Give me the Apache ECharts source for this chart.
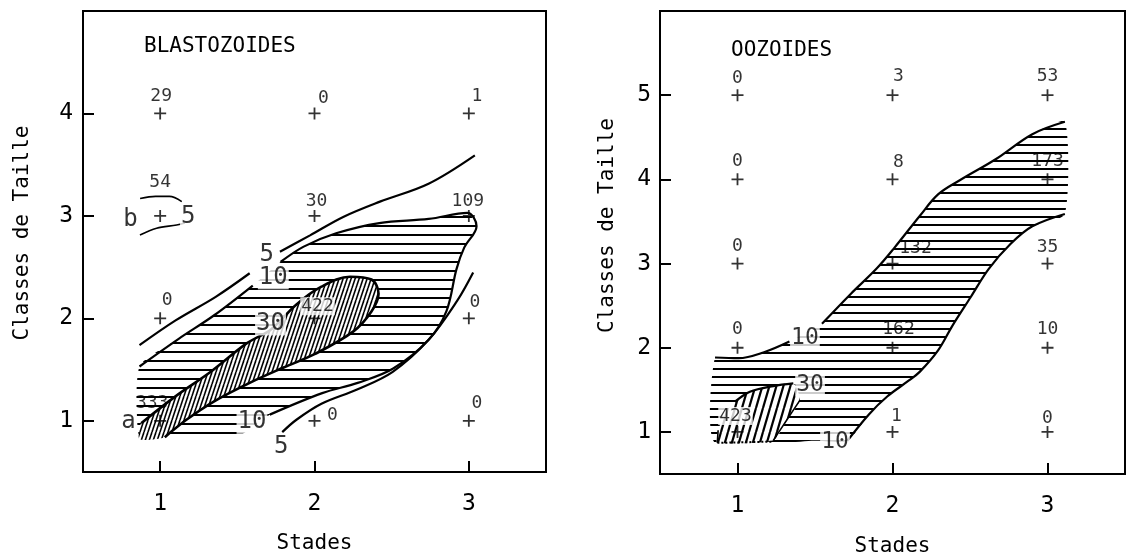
<!DOCTYPE html>
<html><head><meta charset="utf-8">
<script src="https://cdn.jsdelivr.net/npm/echarts@6/dist/echarts.min.js"></script>
<style>html,body{margin:0;padding:0;background:#fff}#c{width:1131px;height:555px}</style>
</head><body><div id="c"></div>
<script>
// ---------- DATA ----------
const stades = [1, 2, 3];
const blastoClasses = [1, 2, 3, 4];
const blastoCounts = [   // rows: classe 1..4, cols: stade 1..3
  [333, 0, 0],
  [0, 422, 0],
  [54, 30, 109],
  [29, 0, 1]
];
const oozoClasses = [1, 2, 3, 4, 5];
const oozoCounts = [     // rows: classe 1..5, cols: stade 1..3
  [423, 1, 0],
  [0, 162, 10],
  [0, 132, 35],
  [0, 8, 173],
  [0, 3, 53]
];
const blastoTicksY = [1, 2, 3, 4];
const oozoTicksY = [1, 2, 3, 4, 5];
const ticksX = [1, 2, 3];

// contour traces (data coordinates: stade, classe)
const blasto5Upper1 = [[0.866,1.738],[1.10,1.98],[1.36,2.21],[1.58,2.44]];
const blasto5Upper2 = [[1.776,2.65],[1.971,2.81],[2.186,2.99],[2.424,3.139],[2.739,3.314],[3.039,3.591]];
const blasto5Lower = [[1.791,0.889],[1.883,1.010],[2.045,1.166],[2.276,1.305],[2.507,1.478],[2.739,1.790],[2.924,2.171],[3.028,2.448]];
const blastoBUpper = [[0.87,3.17],[0.97,3.19],[1.06,3.19],[1.14,3.14]];
const blastoBLower = [[0.869,2.813],[0.977,2.879],[1.107,2.911],[1.16,2.93]];
const blasto10TopLeft = [[0.866,1.53],[1.12,1.80],[1.35,2.03],[1.60,2.32]];
const blasto10TopRight = [[1.78,2.55],[1.93,2.70],[2.14,2.83],[2.42,2.93],[2.74,2.97],[2.99,3.03],[3.05,2.90],[2.97,2.69],[2.92,2.48],[2.855,2.07],[2.74,1.79],[2.51,1.51],[2.28,1.37],[2.05,1.27],[1.71,1.06]];
const blasto10Bottom = [[1.47,0.82],[1.0,0.82],[0.866,0.82]];
const blasto30Edge = [[0.877,0.976],[1.097,1.236],[1.328,1.478],[1.56,1.755],[1.72,1.894],[1.883,2.136],[2.045,2.309],[2.23,2.406],[2.369,2.379],[2.415,2.24],[2.369,2.067],[2.25,1.87],[2.0,1.65],[1.8,1.52],[1.58,1.37],[1.35,1.19],[1.17,1.01],[1.03,0.84]];
const blasto30Bottom = [[0.866,0.82]];
const blastoContourText = ['5','10','30','10','5','b','a','5'];
const blastoContourAt = [[1.69,2.62],[1.733,2.40],[1.715,1.95],[1.595,0.99],[1.785,0.75],[0.808,2.967],[0.795,0.99],[1.182,2.99]];

const oozo10UpperA = [[0.855,1.884],[1.007,1.876],[1.171,1.947],[1.335,2.074]];
const oozo10UpperB = [[1.545,2.284],[1.732,2.642],[1.896,2.937],[2.013,3.189],[2.177,3.568],[2.294,3.821],[2.434,3.989],[2.668,4.242],[2.902,4.537],[3.112,4.684]];
const oozo10Lower = [[3.112,3.589],[2.902,3.442],[2.761,3.232],[2.621,2.937],[2.504,2.600],[2.387,2.263],[2.294,1.968],[2.177,1.716],[2.106,1.611],[1.966,1.421],[1.849,1.211],[1.709,0.895]];
const oozo10Bottom = [[1.498,0.895],[0.855,0.874]];
const oozo30Upper = [[0.984,1.358],[1.08,1.477],[1.231,1.545],[1.36,1.577]];
const oozo30Right = [[1.403,1.378],[1.317,1.139],[1.231,0.90]];
const oozo30Left = [[0.87,0.87],[0.875,1.02],[0.92,1.22]];
const oozo30Dots = [[0.87,0.87],[1.231,0.885]];
const oozoContourText = ['10','30','10'];
const oozoContourAt = [[1.435,2.11],[1.468,1.557],[1.629,0.88]];

// ---------- STYLE ----------
const FONT = '"DejaVu Sans Mono", monospace';
const LEFT_SHIFT = [
  [[-8,-17],[18,-5],[8,-17]],
  [[7,-18],[3,-12],[6,-16]],
  [[0,-34],[2,-15],[-1,-15]],
  [[1,-17],[9,-15],[8,-17]]
];
const RIGHT_SHIFT = [
  [[-2,-16],[4,-16],[0,-14]],
  [[0,-18],[6,-18],[0,-18]],
  [[0,-17],[23,-15],[0,-16]],
  [[0,-18],[6,-17],[0,-18]],
  [[0,-17],[6,-19],[0,-19]]
];

function hatchH(gap, lw) {
  const c = document.createElement('canvas'); c.width = 8; c.height = gap;
  const g = c.getContext('2d'); g.fillStyle = '#000'; g.fillRect(0, 0, 8, lw);
  return c;
}
function hatchD(w, h, lw) {
  const c = document.createElement('canvas'); c.width = w; c.height = h;
  const g = c.getContext('2d'); g.fillStyle = '#fff'; g.fillRect(0, 0, w, h);
  g.strokeStyle = '#000'; g.lineWidth = lw;
  for (const k of [-1, 0, 1]) { g.beginPath(); g.moveTo(k * w, h); g.lineTo(k * w + w, 0); g.stroke(); }
  return c;
}
const patH1 = { image: hatchH(9, 2), repeat: 'repeat' };
const patH2 = { image: hatchH(8, 2), repeat: 'repeat' };
const patD1 = { image: hatchD(4, 12, 1.6), repeat: 'repeat' };
const patD2 = { image: hatchD(7, 24, 2.2), repeat: 'repeat' };

function polySeries(gi, pts, pattern, z) {
  return {
    type: 'custom', xAxisIndex: gi, yAxisIndex: gi, z: z, clip: true, silent: true,
    data: pts,
    renderItem: (params, api) => {
      if (params.dataIndex !== 0) return null;
      return { type: 'polygon', shape: { points: pts.map(p => api.coord(p)), smooth: 0.2 },
               style: { fill: pattern, stroke: null } };
    }
  };
}
function strokeSeries(gi, pts, opts) {
  opts = opts || {};
  return {
    type: 'line', xAxisIndex: gi, yAxisIndex: gi, data: pts, smooth: opts.smooth == null ? 0.35 : opts.smooth,
    symbol: 'none', silent: true, z: 5,
    lineStyle: { color: '#000', width: opts.width || 2.2, type: opts.type || 'solid' }
  };
}
function pointSeries(gi, classes, counts, shifts, whiteFor) {
  const data = [];
  classes.forEach((c, i) => stades.forEach((s, j) => {
    const v = counts[i][j];
    const item = { value: [s, c], name: String(v), label: { offset: shifts[i][j] } };
    if (whiteFor.includes(v)) { item.label.backgroundColor = '#fff'; item.label.padding = [0, 1]; }
    data.push(item);
  }));
  return {
    type: 'scatter', xAxisIndex: gi, yAxisIndex: gi, z: 8, silent: true,
    symbol: 'path://M0,6H12M6,0V12', symbolSize: 12,
    itemStyle: { color: 'none', borderColor: '#000', borderWidth: 1.8 },
    label: { show: true, position: 'inside', formatter: '{b}', color: '#000', fontFamily: FONT, fontSize: 18 },
    data: data
  };
}
function textSeries(gi, texts, at, size) {
  return {
    type: 'scatter', xAxisIndex: gi, yAxisIndex: gi, z: 9, silent: true,
    symbol: 'circle', symbolSize: 1, itemStyle: { color: 'rgba(0,0,0,0)' },
    label: { show: true, position: 'inside', formatter: '{b}', color: '#000', fontFamily: FONT,
             fontSize: size, backgroundColor: '#fff', padding: [0, 1] },
    data: texts.map((t, i) => ({ name: t, value: at[i] }))
  };
}
function xAxis(gi, gap, margin) {
  return {
    gridIndex: gi, type: 'value', min: 0.5, max: 3.5,
    name: 'Stades', nameLocation: 'middle', nameGap: gap,
    nameTextStyle: { fontFamily: FONT, fontSize: 21, color: '#000' },
    axisLine: { show: true, lineStyle: { color: '#000', width: 2 } },
    axisTick: { show: true, inside: true, length: 11, customValues: ticksX, lineStyle: { color: '#000', width: 2 } },
    axisLabel: { customValues: ticksX, color: '#000', fontFamily: FONT, fontSize: 23, margin: margin },
    splitLine: { show: false }
  };
}
function yAxis(gi, max, ticks, gap, margin, shiftUp) {
  return {
    gridIndex: gi, type: 'value', min: 0.5, max: max,
    name: 'Classes de Taille', nameLocation: 'middle', nameGap: gap,
    nameTextStyle: { fontFamily: FONT, fontSize: 21, color: '#000', padding: [0, 0, 0, shiftUp] },
    axisLine: { show: true, lineStyle: { color: '#000', width: 2 } },
    axisTick: { show: true, inside: true, length: 11, customValues: ticks, lineStyle: { color: '#000', width: 2 } },
    axisLabel: { customValues: ticks, color: '#000', fontFamily: FONT, fontSize: 23, margin: margin },
    splitLine: { show: false }
  };
}

const chart = echarts.init(document.getElementById('c'), null, { renderer: 'canvas' });
chart.setOption({
  animation: false,
  backgroundColor: '#fff',
  title: [
    { text: 'BLASTOZOIDES', left: 144, top: 36, padding: 0, textStyle: { fontFamily: FONT, fontSize: 21, fontWeight: 'normal', color: '#000' } },
    { text: 'OOZOIDES', left: 731, top: 40, padding: 0, textStyle: { fontFamily: FONT, fontSize: 21, fontWeight: 'normal', color: '#000' } }
  ],
  grid: [
    { left: 83, top: 11, width: 463, height: 461, show: true, borderColor: '#000', borderWidth: 2, containLabel: false, outerBoundsMode: 'none' },
    { left: 660, top: 11, width: 465, height: 463, show: true, borderColor: '#000', borderWidth: 2, containLabel: false, outerBoundsMode: 'none' }
  ],
  xAxis: [xAxis(0, 61, 21), xAxis(1, 62, 21)],
  yAxis: [yAxis(0, 5, blastoTicksY, 50, 10, 17), yAxis(1, 6, oozoTicksY, 42, 9, 34)],
  series: [
    polySeries(0, blasto10TopLeft.concat(blasto10TopRight, blasto10Bottom), patH1, 1),
    polySeries(0, blasto30Edge.concat(blasto30Bottom), patD1, 2),
    strokeSeries(0, blasto5Upper1),
    strokeSeries(0, blasto5Upper2),
    strokeSeries(0, blasto5Lower),
    strokeSeries(0, blastoBUpper, { width: 1.6 }),
    strokeSeries(0, blastoBLower, { width: 1.6 }),
    strokeSeries(0, blasto10TopLeft),
    strokeSeries(0, blasto10TopRight),
    strokeSeries(0, blasto30Edge, { width: 2.6 }),
    pointSeries(0, blastoClasses, blastoCounts, LEFT_SHIFT, [422]),
    textSeries(0, blastoContourText, blastoContourAt, 24),

    polySeries(1, oozo10UpperA.concat(oozo10UpperB, oozo10Lower, oozo10Bottom), patH2, 1),
    polySeries(1, oozo30Left.concat(oozo30Upper, oozo30Right), patD2, 2),
    strokeSeries(1, oozo10UpperA),
    strokeSeries(1, oozo10UpperB),
    strokeSeries(1, oozo10Lower),
    strokeSeries(1, oozo30Upper, { width: 2.4 }),
    strokeSeries(1, oozo30Right, { width: 1.6 }),
    strokeSeries(1, oozo30Left.slice(0, 2), { width: 1.6 }),
    strokeSeries(1, oozo30Dots, { type: 'dotted', width: 2, smooth: false }),
    pointSeries(1, oozoClasses, oozoCounts, RIGHT_SHIFT, [423]),
    textSeries(1, oozoContourText, oozoContourAt, 23)
  ]
});
</script>
</body></html>
